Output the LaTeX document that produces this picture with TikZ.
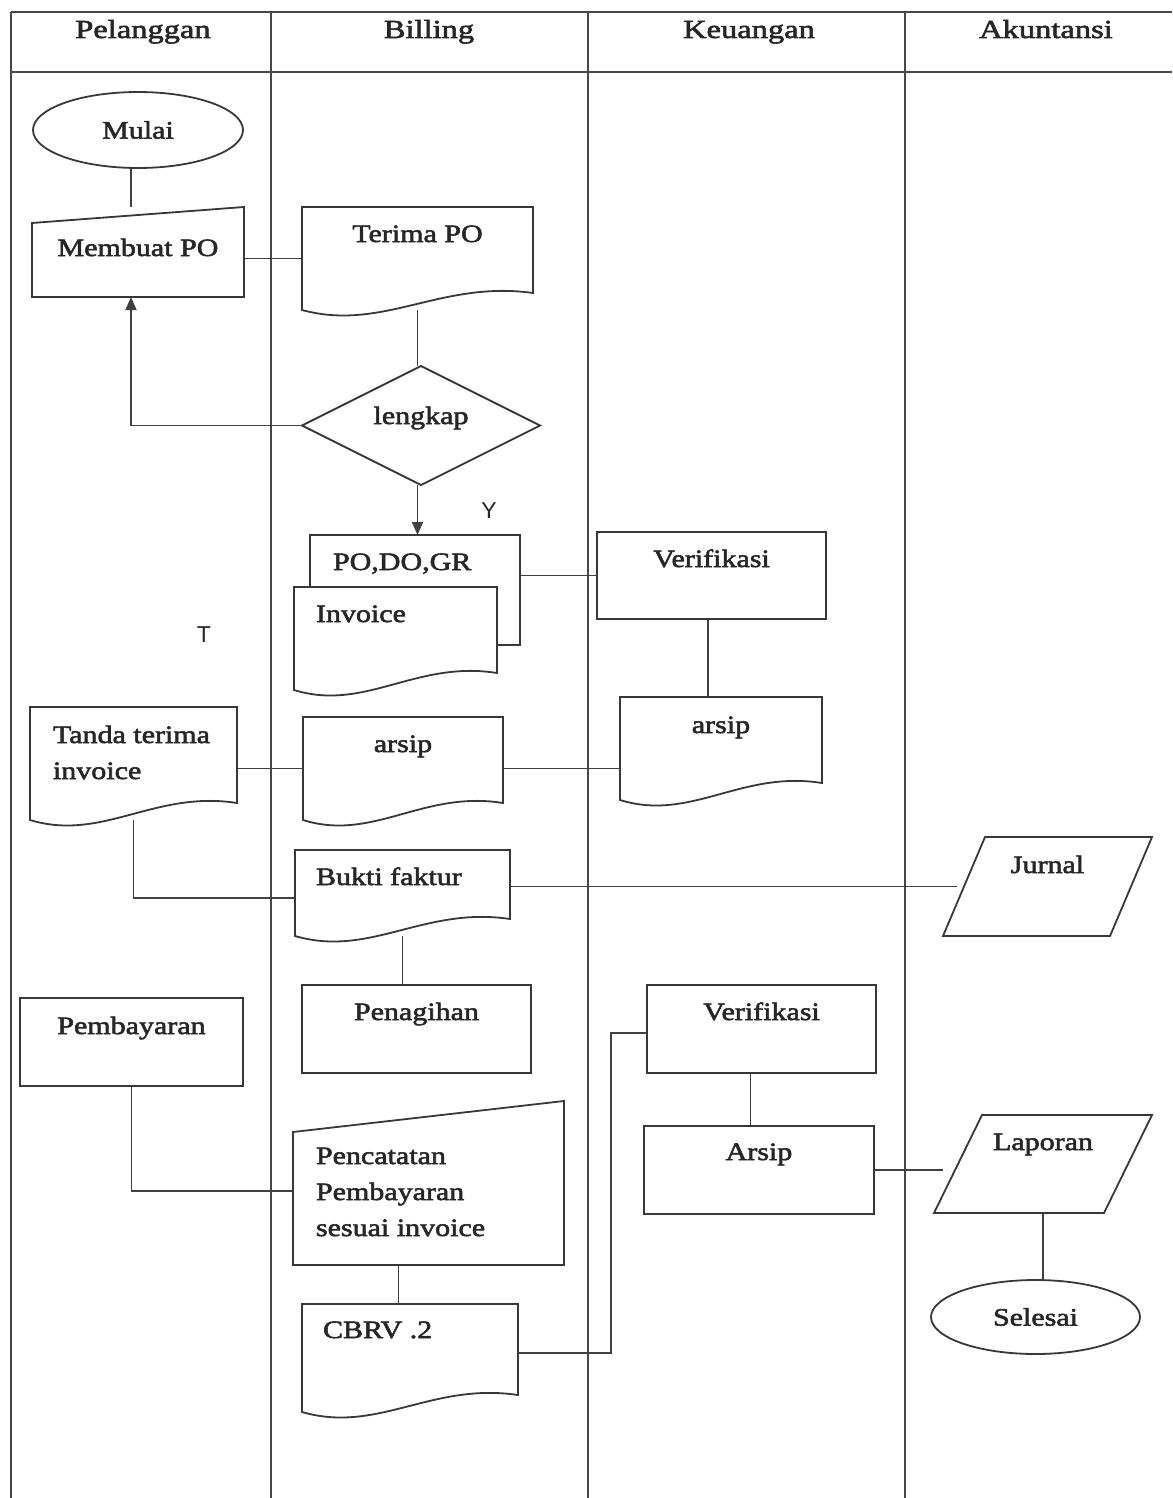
\documentclass[tikz,border=0pt]{standalone}
\usepackage{fontspec}
\setmainfont{Liberation Serif}
\newfontfamily\flowfamily{Liberation Serif}[FakeStretch=1.2, FakeBold=2.2]
\newfontfamily\lanefamily{Liberation Serif}[FakeStretch=1.25, FakeBold=2.2]
\newfontfamily\markfont{Liberation Sans}
\usetikzlibrary{shapes.geometric,calc,arrows.meta}

\pgfdeclarelayer{lanes}
\pgfdeclarelayer{shapes}
\pgfsetlayers{lanes,shapes,main}

\newcommand{\flowfont}{\flowfamily\fontsize{25}{36}\selectfont}
\newcommand{\lanefont}{\lanefamily\fontsize{26}{32}\selectfont}
% text block of fixed size: width, height, first baseline below top, text
\newcommand{\shapetextc}[4]{\parbox[c][#2pt][t]{#1pt}{\centering\rule{0pt}{#3pt}#4\par}}
% same, left aligned with an indent
\newcommand{\shapetextl}[5]{\parbox[c][#2pt][t]{#1pt}{\raggedright\leftskip=#4pt\rule{0pt}{#3pt}#5\par}}

% outlines drawn around the named text boxes
\newcommand{\docoutline}[1]{%
  \path[ink,fill=white] (#1.north west) -- (#1.north east) -- ($(#1.south east)+(0,-17)$)
    .. controls ($(#1.south west)!0.6!(#1.south east)+(0,-30)$) and ($(#1.south west)!0.35!(#1.south east)+(0,22)$) .. (#1.south west) -- cycle;}
\newcommand{\manualoutline}[2]{%
  \path[ink,fill=white] ($(#1.north west)+(0,#2)$) -- (#1.north east) -- (#1.south east) -- (#1.south west) -- cycle;}
\newcommand{\slantoutline}[2]{%
  \path[ink,fill=white] ($(#1.north west)+(#2,0)$) -- (#1.north east) -- ($(#1.south east)+(-#2,0)$) -- (#1.south west) -- cycle;}

\begin{document}
\begin{tikzpicture}[x=1pt,y=-1pt,
  ink/.style={draw=black!78, line width=1.8pt},
  wire/.style={draw=black!75, line width=1.6pt},
  lane/.style={draw=black!72, line width=1.5pt},
  arrowwire/.style={wire, -{Triangle[length=13pt,width=11pt]}},
  txt/.style={inner sep=0pt, outer sep=0pt, font=\flowfont, text=black!85},
  box/.style={txt, ink, fill=white, rectangle},
  oval/.style={txt, ink, fill=white, ellipse},
  branchlabel/.style={inner sep=0pt, font=\markfont\fontsize{23}{26}\selectfont, text=black!85},
  head/.style={inner sep=0pt, font=\lanefont, text=black!85, anchor=base}
]
\useasboundingbox (0,0) rectangle (1172,1498);

% ---- flow symbols ----
\node[oval, minimum width=210pt, minimum height=76pt] (mulai) at (138,130) {Mulai};
\node[txt] (membuat) at (138,252) {\shapetextc{212}{90}{49}{Membuat PO}};
\node[txt] (terima) at (417.5,258.5) {\shapetextc{231}{103}{35}{Terima PO}};
\node[txt, ink, fill=white, diamond, aspect=2, minimum width=238pt, minimum height=119pt,
      text height=17pt, text depth=20pt] (lengkap) at (421,425.5) {lengkap};
\node[txt] (podo) at (415,590) {\shapetextl{210}{110}{35}{23}{PO,DO,GR}};
\node[txt] (invoice) at (395.5,638.5) {\shapetextl{203}{103}{35}{22}{Invoice}};
\node[box] (verif1) at (711.5,575.5) {\shapetextc{229}{87}{35}{Verifikasi}};
\node[txt] (arsipK) at (721,748.5) {\shapetextc{202}{103}{36}{arsip}};
\node[txt] (tanda) at (133.5,763.5) {\shapetextl{207}{113}{36}{23}{Tanda terima\\invoice}};
\node[txt] (arsipB) at (403,768.5) {\shapetextc{200}{103}{35}{arsip}};
\node[txt] (bukti) at (402.5,893) {\shapetextl{215}{86}{35}{21}{Bukti faktur}};
\node[txt] (jurnal) at (1047.5,886.5) {\shapetextc{209}{99}{36}{Jurnal}};
\node[box] (penagihan) at (416.5,1029) {\shapetextc{229}{88}{35}{Penagihan}};
\node[box] (pembayaran) at (131.5,1042) {\shapetextc{223}{88}{36}{Pembayaran}};
\node[txt] (pencatatan) at (428.5,1183) {\shapetextl{271}{164}{63}{23}{Pencatatan\\Pembayaran\\sesuai invoice}};
\node[txt] (cbrv) at (410,1358) {\shapetextl{216}{108}{34}{21}{CBRV .2}};
\node[box] (verif2) at (761.5,1029) {\shapetextc{229}{88}{35}{Verifikasi}};
\node[box] (arsip2) at (759,1170) {\shapetextc{230}{88}{34}{Arsip}};
\node[txt] (laporan) at (1043,1164) {\shapetextc{218}{98}{35}{Laporan}};
\node[oval, minimum width=209pt, minimum height=74pt] (selesai) at (1035.5,1317) {Selesai};

\node[branchlabel] (ya) at (489,511) {Y};
\node[branchlabel] (tidak) at (204,635) {T};

% ---- lane headings ----
\node[head] (hpel) at (143,38) {Pelanggan};
\node[head] (hbil) at (429,38) {Billing};
\node[head] (hkeu) at (749,38) {Keuangan};
\node[head] (hakt) at (1046,38) {Akuntansi};

% ---- symbol outlines ----
\begin{pgfonlayer}{shapes}
  \manualoutline{membuat}{16}
  \docoutline{terima}
  \path[ink,fill=white] (podo.north west) rectangle (podo.south east);
  \docoutline{invoice}
  \docoutline{arsipK}
  \docoutline{tanda}
  \docoutline{arsipB}
  \docoutline{bukti}
  \slantoutline{jurnal}{42}
  \manualoutline{pencatatan}{31}
  \docoutline{cbrv}
  \slantoutline{laporan}{48}
\end{pgfonlayer}

% ---- swimlanes and connectors ----
\begin{pgfonlayer}{lanes}
  \fill[white] (0,0) rectangle (1172,1498);
  \draw[lane] (11,12) -- (1172,12);
  \draw[lane] (11,72) -- (1172,72);
  \foreach \xl in {11,271,588,905} \draw[lane] (\xl,12) -- (\xl,1498);

  \coordinate (mline) at ([xshift=-7pt]membuat.south);
  \coordinate (v1s) at ([xshift=-3.5pt]verif1.south);
  \coordinate (pcs) at ([xshift=-30pt]pencatatan.south);
  \coordinate (v2s) at ([xshift=-11pt]verif2.south);
  \coordinate (v2in) at ([yshift=-4pt]verif2.west);
  \coordinate (cbrvturn) at ([xshift=-36pt]v2in);
  \coordinate (jurin) at ([xshift=14pt]jurnal.west);
  \coordinate (lapin) at ([xshift=9pt]laporan.west);

  \draw[wire] (mulai.south -| mline) -- (membuat.north -| mline);
  \draw[wire] (membuat.east |- terima.west) -- (terima.west);
  \draw[wire] (terima.south) -- (terima.south |- lengkap.north);
  \draw[arrowwire] (lengkap.west) -| (mline);
  \draw[arrowwire] (terima.south |- lengkap.south) -- (terima.south |- podo.north);
  \draw[wire] (podo.east |- verif1.west) -- (verif1.west);
  \draw[wire] (v1s) -- (v1s |- arsipK.north);
  \draw[wire] (tanda.east |- arsipB.west) -- (arsipB.west);
  \draw[wire] (arsipB.east) -- (arsipB.east -| arsipK.west);
  \draw[wire] (tanda.south) |- ([yshift=-5pt]bukti.west);
  \draw[wire] (jurin -| bukti.east) -- (jurin);
  \draw[wire] (bukti.south) -- (bukti.south |- penagihan.north);
  \draw[wire] (pembayaran.south) |- ([yshift=-8pt]pencatatan.west);
  \draw[wire] (pcs) -- (pcs |- cbrv.north);
  \draw[wire] ([yshift=5pt]cbrv.east) -| (cbrvturn) -- (v2in);
  \draw[wire] (v2s) -- (v2s |- arsip2.north);
  \draw[wire] (arsip2.east) -- (arsip2.east -| lapin);
  \draw[wire] (laporan.south) -- (laporan.south |- selesai.north);
\end{pgfonlayer}
\end{tikzpicture}
\end{document}
